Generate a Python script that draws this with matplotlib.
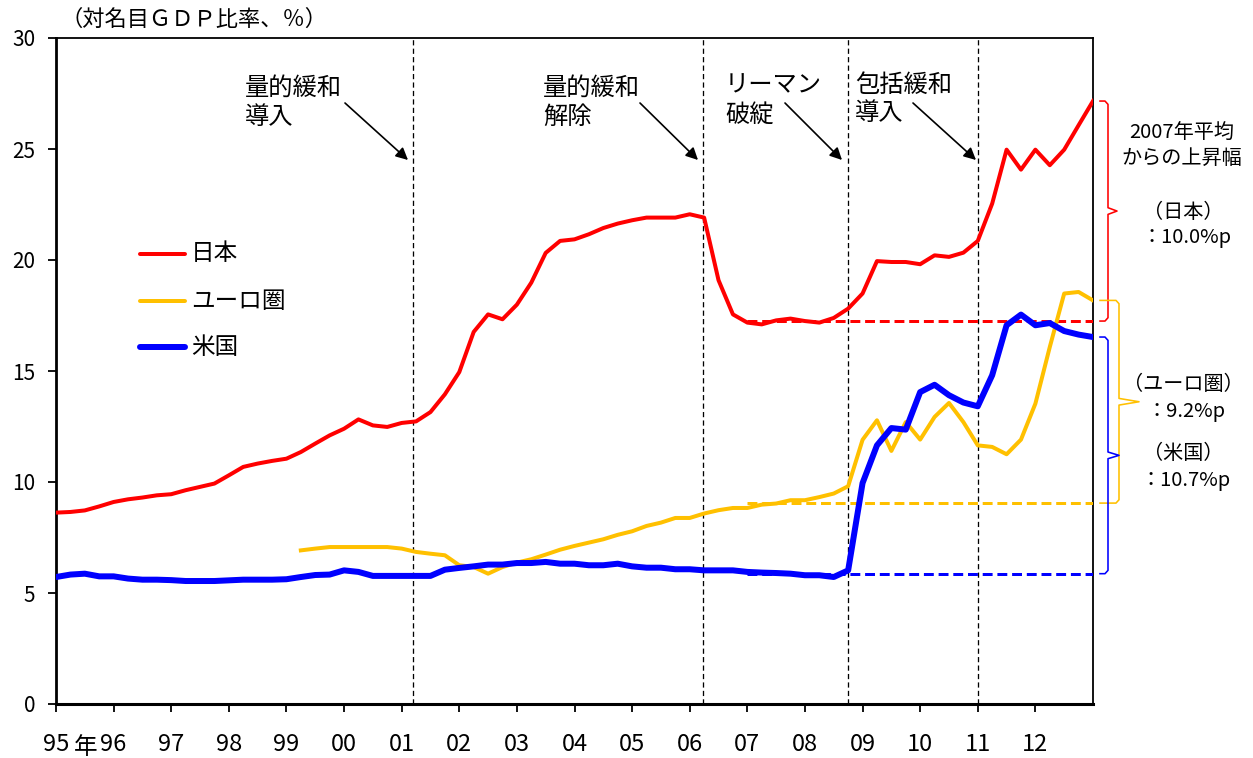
import matplotlib
matplotlib.use("Agg")
import matplotlib.pyplot as plt
from matplotlib.transforms import blended_transform_factory

plt.rcParams['font.family'] = ['Noto Sans CJK JP', 'DejaVu Sans']

W, H, DPI = 1253, 758, 100

# ---- data (quarterly, 1995Q1 .. 2013Q1 positions) ----
japan = [8.62, 8.65, 8.72, 8.90, 9.10, 9.22, 9.30, 9.40, 9.45, 9.63, 9.78, 9.93,
         10.30, 10.68, 10.83, 10.95, 11.05, 11.35, 11.73, 12.10, 12.40, 12.82, 12.55, 12.48,
         12.66, 12.73, 13.15, 13.95, 14.95, 16.76, 17.55, 17.33, 17.99, 18.98, 20.32, 20.86,
         20.93, 21.16, 21.44, 21.64, 21.79, 21.91, 21.91, 21.91, 22.06, 21.91, 19.09, 17.55,
         17.18, 17.10, 17.28, 17.36, 17.25, 17.18, 17.39, 17.81, 18.49, 19.95, 19.91, 19.91,
         19.81, 20.21, 20.14, 20.33, 20.86, 22.54, 24.97, 24.07, 24.97, 24.27, 24.97, 26.07,
         27.16]
euro_start = 17
euro = [6.92, 7.00, 7.07, 7.07, 7.07, 7.07, 7.07, 7.00, 6.85, 6.77, 6.70, 6.25,
        6.17, 5.87, 6.17, 6.37, 6.52, 6.73, 6.95, 7.12, 7.27, 7.42, 7.62, 7.78,
        8.02, 8.17, 8.38, 8.38, 8.58, 8.73, 8.83, 8.83, 8.98, 9.03, 9.18, 9.18,
        9.32, 9.48, 9.81, 11.90, 12.78, 11.40, 12.70, 11.91, 12.93, 13.56, 12.70, 11.65,
        11.58, 11.25, 11.91, 13.53, 16.08, 18.49, 18.56, 18.18]
usa = [5.72, 5.83, 5.87, 5.75, 5.75, 5.65, 5.60, 5.60, 5.58, 5.54, 5.54, 5.54,
       5.57, 5.60, 5.60, 5.60, 5.62, 5.72, 5.81, 5.83, 6.02, 5.95, 5.77, 5.77,
       5.77, 5.77, 5.77, 6.05, 6.13, 6.20, 6.28, 6.28, 6.35, 6.35, 6.40, 6.32,
       6.32, 6.25, 6.25, 6.32, 6.20, 6.14, 6.14, 6.07, 6.07, 6.02, 6.02, 6.02,
       5.95, 5.92, 5.90, 5.87, 5.80, 5.80, 5.72, 6.02, 9.95, 11.65, 12.43, 12.36,
       14.05, 14.38, 13.91, 13.58, 13.41, 14.81, 17.06, 17.54, 17.06, 17.16, 16.80, 16.64,
       16.53]

series_names = ['日本', 'ユーロ圏', '米国']
series_colors = ['#FF0000', '#FFC000', '#0000FF']
base_2007 = [17.25, 9.05, 5.87]          # 2007 average levels
rise_labels = ['（日本）', '（ユーロ圏）', '（米国）']
rise_values = ['：10.0%p', '：9.2%p', '：10.7%p']

year_labels = ['95', '96', '97', '98', '99', '00', '01', '02', '03', '04',
               '05', '06', '07', '08', '09', '10', '11', '12']
y_ticks = [0, 5, 10, 15, 20, 25, 30]

events = [('量的緩和', '導入'), ('量的緩和', '解除'), ('リーマン', '破綻'), ('包括緩和', '導入')]
event_pos = [24.8, 44.93, 55.0, 64.03]   # quarter index of event lines
base_start = 48                            # 2007Q1

# ---- figure ----
fig = plt.figure(figsize=(W / DPI, H / DPI), dpi=DPI)
L, R, T, B = 56, 1093, 38, 704
ax = fig.add_axes([L / W, 1 - B / H, (R - L) / W, (B - T) / H])

def px(x, y):
    return (x / W, 1 - y / H)

lw_px = 72 / DPI  # points per pixel

xs = list(range(len(japan)))
ax.plot(xs, japan, color=series_colors[0], lw=4 * lw_px, solid_joinstyle='round', zorder=5)
ax.plot(list(range(euro_start, euro_start + len(euro))), euro, color=series_colors[1],
        lw=4 * lw_px, solid_joinstyle='round', zorder=4)
ax.plot(xs, usa, color=series_colors[2], lw=6 * lw_px, solid_joinstyle='round', zorder=6)

last = len(japan) - 1
for b, c in zip(base_2007, series_colors):
    ax.plot([base_start, last], [b, b], color=c, lw=3 * lw_px, dashes=(3.3, 1.6), zorder=3)

for e in event_pos:
    ax.axvline(e, color='black', lw=1.3 * lw_px, dashes=(4, 2.5), zorder=2)

ax.set_xlim(0, 72)
ax.set_ylim(0, 30)
ax.set_yticks(y_ticks)
ax.set_yticklabels([str(v) for v in y_ticks], fontsize=15)
ax.set_xticks([4 * k for k in range(len(year_labels))])
ax.set_xticklabels(year_labels, fontsize=17)
ax.tick_params(axis='x', direction='out', length=6, width=1.3, pad=15)
ax.tick_params(axis='y', direction='out', length=6, width=1.3, pad=9)
for s in ax.spines.values():
    s.set_linewidth(1.3)
ax.spines['left'].set_linewidth(2)
ax.spines['bottom'].set_linewidth(2.2)

# 年 after 95
fig.text(*px(86, 747), '年', fontsize=17, ha='center', va='center')

# title
fig.text(*px(60, 19), '（対名目ＧＤＰ比率、％）', fontsize=16, ha='left', va='center')

# event annotations
ev_text = [(245, 88, 117), (543, 88, 117), (725, 85, 115), (855, 85, 113)]
arrows = [((345, 103), (408, 160)), ((640, 103), (698, 160)),
          ((785, 103), (842, 160)), ((913, 103), (976, 160))]
for (l1, l2), (tx, ty1, ty2), (st, tip) in zip(events, ev_text, arrows):
    fig.text(*px(tx, ty1), l1, fontsize=17.5, ha='left', va='center')
    fig.text(*px(tx, ty2), l2, fontsize=17.5, ha='left', va='center')
    fig.patches.append(matplotlib.patches.FancyArrowPatch(
        px(*st), px(*tip), transform=fig.transFigure, arrowstyle='-|>',
        mutation_scale=18, lw=1.2, color='black', shrinkA=0, shrinkB=0))

# legend (manual)
leg_y = [254, 301, 347]
leg_lw = [4, 4, 6]
for name, c, yy, lw in zip(series_names, series_colors, leg_y, leg_lw):
    fig.add_artist(matplotlib.lines.Line2D([140 / W, 185 / W], [1 - yy / H, 1 - yy / H],
                                           color=c, lw=lw * lw_px, solid_capstyle='round'))
    fig.text(*px(191, yy), name, fontsize=17, ha='left', va='center')

# braces on the right
trans = blended_transform_factory(fig.transFigure, ax.transData)
ends = [japan[-1], euro[-1], usa[-1]]
brace_geo = [(1100, 1108, 1117), (1100, 1119, 1139), (1100, 1108, 1119)]
d = 0.15
for top, bot, c, (x0, xv, xt) in zip(ends, base_2007, series_colors, brace_geo):
    mid = (top + bot) / 2
    bx = [x0, xv - 3, xv, xv, xt, xv, xv, xv - 3, x0]
    by = [top, top, top - d, mid + d, mid, mid - d, bot + d, bot, bot]
    fig.add_artist(matplotlib.lines.Line2D([v / W for v in bx], by, transform=trans,
                                           color=c, lw=1.6 * lw_px, clip_on=False))

fig.text(*px(1182, 133), '2007年平均', fontsize=14.5, ha='center', va='center')
fig.text(*px(1182, 158), 'からの上昇幅', fontsize=14.5, ha='center', va='center')
rise_pos = [(212, 237), (385, 412), (453, 480)]
for lab, val, (y1, y2) in zip(rise_labels, rise_values, rise_pos):
    fig.text(*px(1183, y1), lab, fontsize=14.5, ha='center', va='center')
    fig.text(*px(1186, y2), val, fontsize=14.5, ha='center', va='center')

fig.savefig('out.png', dpi=DPI)
